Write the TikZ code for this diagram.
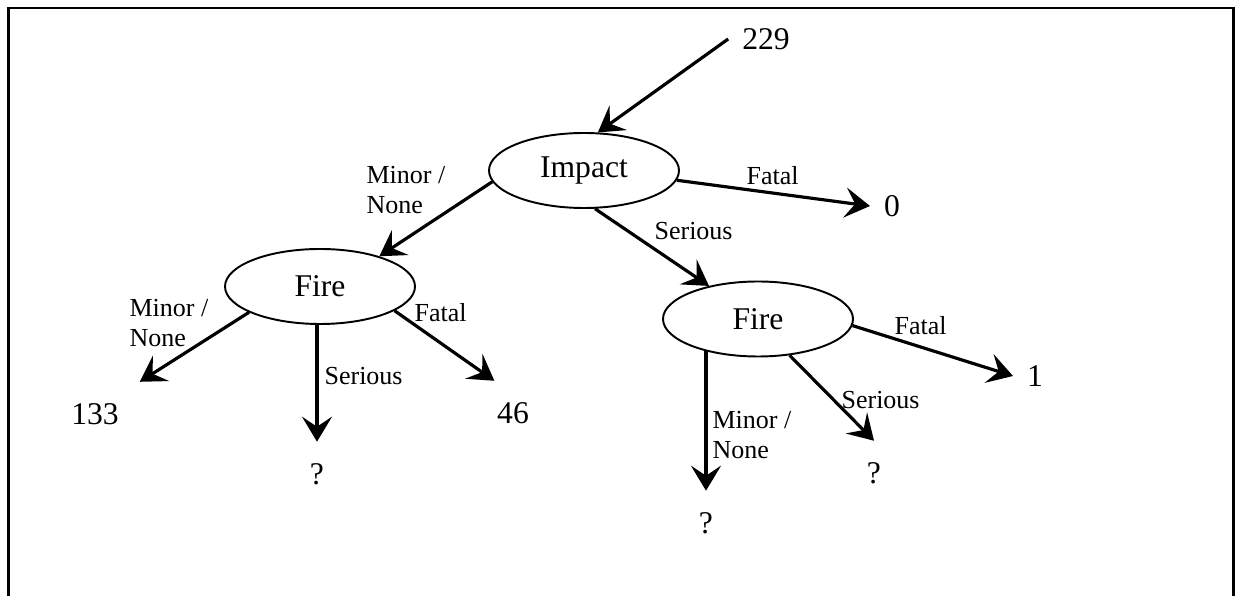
\documentclass[tikz,border=0pt]{standalone}
\usepackage{fontspec}
\setmainfont{Liberation Serif}
\usetikzlibrary{arrows.meta,shapes.geometric}

\begin{document}
\begin{tikzpicture}[>={Stealth[length=0.5cm,width=0.6cm,inset=0.2cm]}, line width=1.8pt,
	evento/.style={ellipse, draw, line width=1.1pt, minimum width=3.8cm, minimum height=1.5cm, inner sep=0pt, font=\fontsize{18}{22}\selectfont},
	esito/.style={inner xsep=0.25cm, inner ysep=0.4cm, font=\fontsize{18}{22}\selectfont},
	ramo/.style={inner sep=0pt, anchor=base west, align=left, font=\fontsize{14.8}{17.6}\selectfont}]
	\useasboundingbox (0,0) rectangle (24.7,11.92);
	\draw[line width=1.4pt] (0.17,0) -- (0.17,11.76) -- (24.67,11.76) -- (24.67,0); % cornice, aperta in basso
	
	\node[evento] (impact) at (11.68, 8.51) {Impact};
	\node[evento] (fireL) at (6.40, 6.19) {Fire};
	\node[evento] (fireR) at (15.16, 5.54) {Fire};
	
	\node[esito] (n229) at (15.32, 11.14) {229};
	\node[esito] (n0) at (17.84, 7.80) {0};
	\node[esito] (n133) at (1.90, 3.64) {133};
	\node[esito] (n46) at (10.26, 3.66) {46};
	\node[esito] (q1) at (6.34, 2.44) {?};
	\node[esito] (n1) at (20.70, 4.40) {1};
	\node[esito] (q2) at (14.12, 1.46) {?};
	\node[esito] (q3) at (17.48, 2.46) {?};
	
	\draw[->] (n229.west) -- (impact.70);
	\draw[->] (impact.187) -- (fireL.27);
	\draw[->] (impact.-6) -- (n0.west);
	\draw[->] (impact.-74) -- (fireR.146);
	
	\draw[->] (fireL.200) -- ([xshift=4pt]n133.north east);
	\draw[->] (q1.north |- fireL.south) -- (q1.north);
	\draw[->] (fireL.-18) -- (n46.120);
	
	\draw[->] (fireR.-4) -- (n1.west);
	\draw[->] (q2.north |- fireR.211) -- (q2.north);
	\draw[->] (fireR.-49) -- (q3.north);
	
	% etichette dei rami (base = ultima riga)
	\node[ramo] (lImpMin) at (7.30, 7.64) {Minor /\\None};
	\node[ramo] (lImpFat) at (14.90, 8.22) {Fatal};
	\node[ramo] (lImpSer) at (13.06, 7.12) {Serious};
	\node[ramo] (lFLMin) at (2.56, 4.98) {Minor /\\None};
	\node[ramo] (lFLSer) at (6.46, 4.22) {Serious};
	\node[ramo] (lFLFat) at (8.26, 5.48) {Fatal};
	\node[ramo] (lFRFat) at (17.86, 5.22) {Fatal};
	\node[ramo] (lFRMin) at (14.22, 2.74) {Minor /\\None};
	\node[ramo] (lFRSer) at (16.80, 3.74) {Serious};
\end{tikzpicture}
\end{document}
